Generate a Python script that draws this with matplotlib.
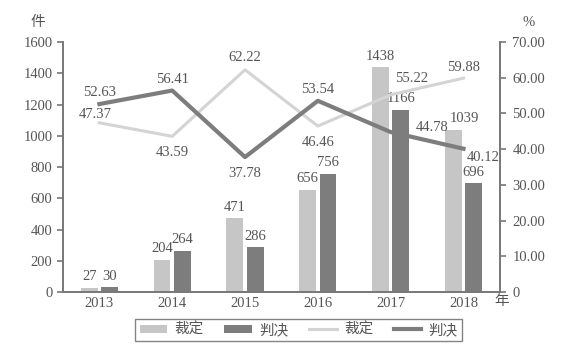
import numpy as np
import matplotlib.pyplot as plt

plt.rcParams['font.family'] = ['Liberation Serif', 'Noto Sans CJK SC']

years = ['2013', '2014', '2015', '2016', '2017', '2018']
caiding = [27, 204, 471, 656, 1438, 1039]
panjue = [30, 264, 286, 756, 1166, 696]
caiding_pct = [47.37, 43.59, 62.22, 46.46, 55.22, 59.88]
panjue_pct = [52.63, 56.41, 37.78, 53.54, 44.78, 40.12]

# label offsets in points for the percentage labels
cd_off = [(-3, 6), (0, -12), (0, 9), (0, -12), (15, 12), (0, 8)]
pj_off = [(0, 8), (0, 8), (0, -12), (0, 8), (30, 3), (14, -6)]

c_light = '#c6c6c6'
c_dark = '#7d7d7d'
c_text = '#555555'
c_axis = '#777777'

fig = plt.figure(figsize=(5.7, 3.53), dpi=100)
ax = fig.add_axes([0.1105, 0.1728, 0.7665, 0.7082])
ax2 = ax.twinx()

x = np.arange(len(years))
w = 0.23
b1 = ax.bar(x - 0.14, caiding, w, color=c_light, label='裁定')
b2 = ax.bar(x + 0.14, panjue, w, color=c_dark, label='判决')
for i in range(len(x)):
    dx = 0.15 if i == 5 else 0
    ax.text(x[i] - 0.14 + dx, caiding[i] + 30, str(caiding[i]), ha='center', va='bottom',
            fontsize=10.5, color=c_text)
    ax.text(x[i] + 0.14, panjue[i] + 30, str(panjue[i]), ha='center', va='bottom',
            fontsize=10.5, color=c_text)

l1, = ax2.plot(x, caiding_pct, color='#d4d4d4', lw=2.2, label='裁定')
l2, = ax2.plot(x, panjue_pct, color=c_dark, lw=3, label='判决')
for i in range(len(x)):
    ax2.annotate(f'{caiding_pct[i]:.2f}', (x[i], caiding_pct[i]), xytext=cd_off[i],
                 textcoords='offset points', ha='center', va='center', fontsize=10.5, color=c_text)
    ax2.annotate(f'{panjue_pct[i]:.2f}', (x[i], panjue_pct[i]), xytext=pj_off[i],
                 textcoords='offset points', ha='center', va='center', fontsize=10.5, color=c_text)

ax.set_xlim(-0.5, 5.5)
ax.set_ylim(0, 1600)
ax.set_yticks(range(0, 1601, 200))
ax2.set_ylim(0, 70)
ax2.set_yticks(range(0, 71, 10))
ax2.set_yticklabels(['0'] + [f'{v:.2f}' for v in range(10, 71, 10)])
ax.set_xticks(x)
ax.set_xticklabels(years)

for a in (ax, ax2):
    a.spines['top'].set_visible(False)
    for s in ('left', 'right', 'bottom'):
        a.spines[s].set_color(c_axis)
        a.spines[s].set_linewidth(1.2)
    a.tick_params(colors=c_axis, labelcolor=c_text, labelsize=10.5, width=1.2, length=4,
                  direction='out')
ax.tick_params(axis='x', length=0)
ax2.tick_params(axis='y', pad=5)

fig.text(0.067, 0.935, '件', fontsize=10.5, color=c_text, ha='center', va='center')
fig.text(0.927, 0.935, '%', fontsize=10.5, color=c_text, ha='center', va='center')
fig.text(0.88, 0.145, '年', fontsize=10.5, color=c_text, ha='center', va='center')

leg = fig.legend([b1, b2, l1, l2], ['裁定', '判决', '裁定', '判决'], ncol=4,
                 loc='center', bbox_to_anchor=(0.524, 0.065), fontsize=10.5,
                 frameon=True, fancybox=False, handlelength=1.9, columnspacing=1.4,
                 borderpad=0.3, handletextpad=0.5, handleheight=0.5)
leg.get_frame().set_edgecolor('#666666')
leg.get_frame().set_linewidth(1.0)
for t in leg.get_texts():
    t.set_color(c_text)

fig.savefig('out.png', dpi=100)
